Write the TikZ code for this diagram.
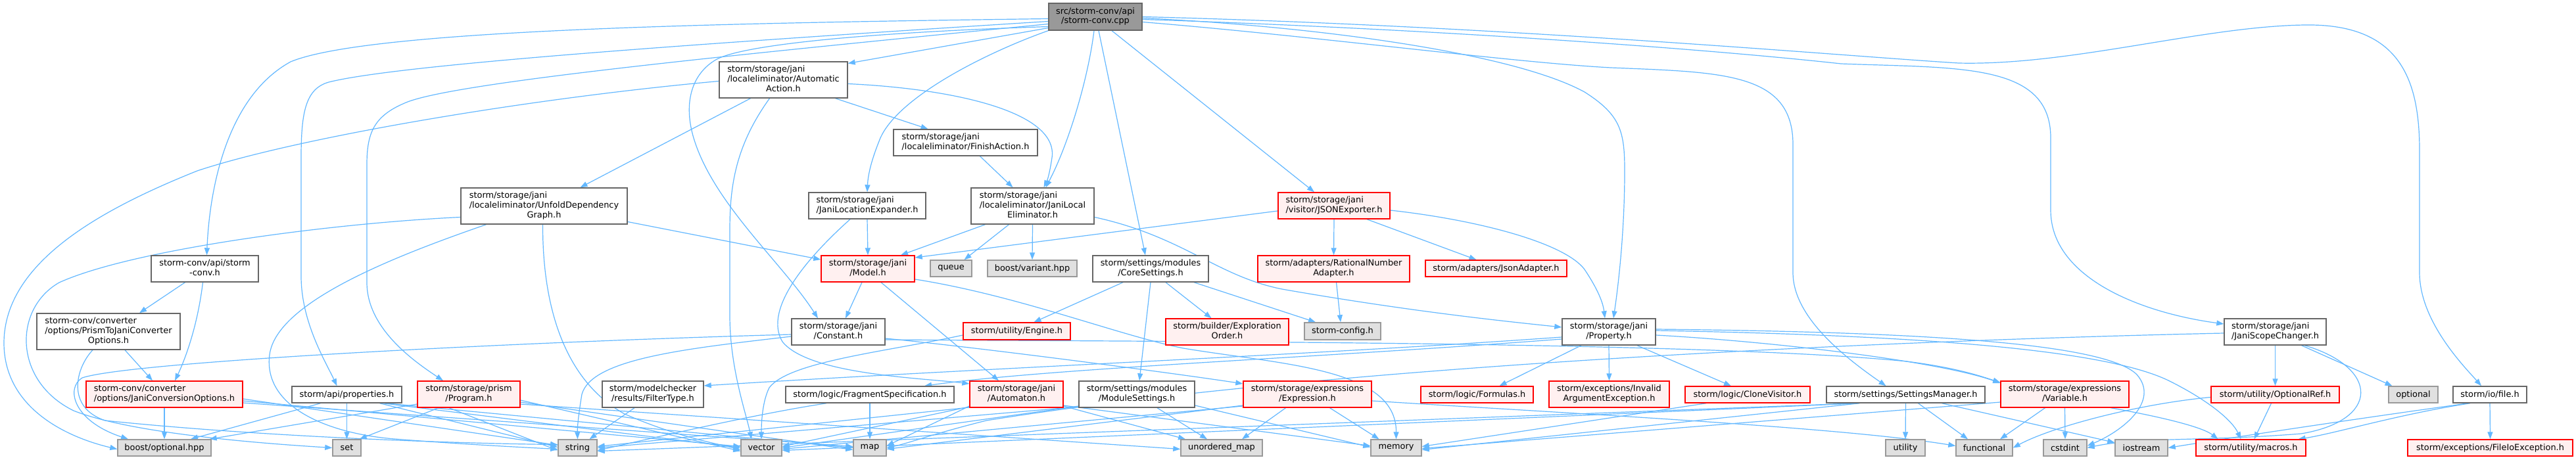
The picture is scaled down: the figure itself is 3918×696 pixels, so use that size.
\documentclass[tikz,border=0pt]{standalone}
\usepackage{fontspec}
\newfontfamily\dvs{DejaVu Sans}
\usetikzlibrary{arrows.meta}
\definecolor{edgec}{HTML}{63B8FF}
\definecolor{bordgray}{HTML}{666666}
\definecolor{redfill}{HTML}{FFF0F0}
\definecolor{grayfill}{HTML}{E0E0E0}
\definecolor{graybd}{HTML}{999999}
\definecolor{topfill}{HTML}{999999}
\newcommand\nfont{\dvs\fontsize{12.9pt}{14.7pt}\selectfont}
\newcommand\mlines[2]{\begin{tabular}{@{}l@{}}#1\\\multicolumn{1}{@{}c@{}}{#2}\end{tabular}}
\pgfdeclarelayer{bg}
\pgfsetlayers{bg,main}
\begin{document}
\begin{tikzpicture}[x=1pt,y=-1pt,
 lnk/.style={draw=edgec, line width=1.2pt, -{Triangle[length=11pt,width=8pt]}},
 wh/.style 2 args={minimum width=#1pt, minimum height=#2pt},
 nbox/.style={draw=bordgray, line width=1.4pt, fill=white, inner sep=0pt, font=\nfont, anchor=center},
 rbox/.style={nbox, draw=red, fill=redfill},
 gbox/.style={nbox, draw=graybd, fill=grayfill},
 tbox/.style={nbox, fill=topfill},
]
\useasboundingbox (0,0) rectangle (3918,696);

% ---------- nodes ----------
\node[tbox, wh={142}{41}] (top) at (1666,25.5) {\mlines{src/storm-conv/api}{/storm-conv.cpp}};
\node[nbox, wh={195}{55}] (aa) at (1191.5,121.5) {\mlines{storm/storage/jani\\/localeliminator/Automatic}{Action.h}};
\node[nbox, wh={219}{40}] (fin) at (1468.5,217) {\mlines{storm/storage/jani}{/localeliminator/FinishAction.h}};
\node[nbox, wh={253}{55}] (udg) at (827.5,313.5) {\mlines{storm/storage/jani\\/localeliminator/UnfoldDependency}{Graph.h}};
\node[nbox, wh={178}{40}] (jle) at (1319,313) {\mlines{storm/storage/jani}{/JaniLocationExpander.h}};
\node[nbox, wh={187}{55}] (jlel) at (1570.5,313.5) {\mlines{storm/storage/jani\\/localeliminator/JaniLocal}{Eliminator.h}};
\node[rbox, wh={170}{40}] (json) at (2029,313) {\mlines{storm/storage/jani}{/visitor/JSONExporter.h}};
\node[nbox, wh={163}{40}] (sch) at (311.5,409) {\mlines{storm-conv/api/storm}{-conv.h}};
\node[rbox, wh={142}{40}] (model) at (1320,409) {\mlines{storm/storage/jani}{/Model.h}};
\node[gbox, wh={63}{25}] (queue) at (1446.5,408.5) {queue};
\node[gbox, wh={136}{25}] (bvar) at (1570,408.5) {boost/variant.hpp};
\node[nbox, wh={176}{40}] (core) at (1750,409) {\mlines{storm/settings/modules}{/CoreSettings.h}};
\node[rbox, wh={231}{40}] (rna) at (2028.5,409) {\mlines{storm/adapters/RationalNumber}{Adapter.h}};
\node[rbox, wh={215}{25}] (jsona) at (2275.5,408.5) {storm/adapters/JsonAdapter.h};
\node[nbox, wh={218}{55}] (ptj) at (165,504.5) {\mlines{storm-conv/converter\\/options/PrismToJaniConverter}{Options.h}};
\node[nbox, wh={142}{40}] (cnst) at (1275,505) {\mlines{storm/storage/jani}{/Constant.h}};
\node[rbox, wh={163}{26}] (engine) at (1546.5,504) {storm/utility/Engine.h};
\node[rbox, wh={187}{40}] (expl) at (1866.5,505) {\mlines{storm/builder/Exploration}{Order.h}};
\node[gbox, wh={116}{26}] (cfg) at (2042,504) {storm-config.h};
\node[nbox, wh={142}{40}] (prop) at (2447,505) {\mlines{storm/storage/jani}{/Property.h}};
\node[nbox, wh={155}{40}] (scope) at (3460.5,505) {\mlines{storm/storage/jani}{/JaniScopeChanger.h}};
\node[rbox, wh={238}{40}] (jco) at (250,600) {\mlines{storm-conv/converter}{/options/JaniConversionOptions.h}};
\node[nbox, wh={167}{25}] (props) at (527.5,600.5) {storm/api/properties.h};
\node[rbox, wh={156}{40}] (prog) at (713,600) {\mlines{storm/storage/prism}{/Program.h}};
\node[nbox, wh={154}{40}] (filt) at (993,600) {\mlines{storm/modelchecker}{/results/FilterType.h}};
\node[nbox, wh={256}{25}] (frag) at (1323,600.5) {storm/logic/FragmentSpecification.h};
\node[rbox, wh={142}{40}] (autom) at (1546,600) {\mlines{storm/storage/jani}{/Automaton.h}};
\node[nbox, wh={176}{40}] (mods) at (1729,600) {\mlines{storm/settings/modules}{/ModuleSettings.h}};
\node[rbox, wh={195}{40}] (expr) at (1988.5,600) {\mlines{storm/storage/expressions}{/Expression.h}};
\node[rbox, wh={171}{25}] (form) at (2246.5,600.5) {storm/logic/Formulas.h};
\node[rbox, wh={183}{40}] (inval) at (2447.5,600) {\mlines{storm/exceptions/Invalid}{ArgumentException.h}};
\node[rbox, wh={190}{25}] (clone) at (2658,600.5) {storm/logic/CloneVisitor.h};
\node[nbox, wh={241}{25}] (setm) at (2898.5,600.5) {storm/settings/SettingsManager.h};
\node[rbox, wh={195}{40}] (var) at (3140.5,600) {\mlines{storm/storage/expressions}{/Variable.h}};
\node[rbox, wh={195}{25}] (optref) at (3460.5,600.5) {storm/utility/OptionalRef.h};
\node[gbox, wh={75}{25}] (optl) at (3670.5,600.5) {optional};
\node[nbox, wh={112}{25}] (file) at (3787,600.5) {storm/io/file.h};
\node[gbox, wh={142}{25}] (bopt) at (250,681.5) {boost/optional.hpp};
\node[gbox, wh={43}{25}] (nset) at (527.5,681.5) {set};
\node[gbox, wh={59}{25}] (str) at (878.5,681.5) {string};
\node[gbox, wh={62}{25}] (vec) at (1158,681.5) {vector};
\node[gbox, wh={50}{25}] (nmap) at (1323,681.5) {map};
\node[gbox, wh={124}{25}] (umap) at (1858,681.5) {unordered\_map};
\node[gbox, wh={77}{25}] (mem) at (2123.5,681.5) {memory};
\node[gbox, wh={60}{25}] (util) at (2898,681.5) {utility};
\node[gbox, wh={86}{25}] (func) at (3018,681.5) {functional};
\node[gbox, wh={66}{25}] (cstd) at (3141,681.5) {cstdint};
\node[gbox, wh={80}{25}] (iost) at (3257,681.5) {iostream};
\node[rbox, wh={167}{25}] (macros) at (3423.5,681.5) {storm/utility/macros.h};
\node[rbox, wh={251}{25}] (fileio) at (3787.5,681.5) {storm/exceptions/FileIoException.h};

% ---------- edges ----------
\begin{pgfonlayer}{bg}
\fill[white] (0,0) rectangle (3918,696);
% from the top node
\draw[lnk] ([yshift=-3pt]top.west) .. controls (1100,35) and (560,45) .. (442,94) .. controls (340,150) and (318,300) .. ([xshift=3pt]sch.north);
\draw[lnk] ([yshift=-7pt]top.west) .. controls (1000,70) and (600,100) .. (500,125) .. controls (465,135) and (458,170) .. (458,240) -- (458,420) .. controls (458,490) and (495,550) .. ([xshift=-15pt]props.north);
\draw[lnk] ([yshift=-11pt]top.west) .. controls (1100,85) and (700,125) .. (620,155) .. controls (570,175) and (558,200) .. (558,250) -- (558,430) .. controls (558,500) and (630,550) .. ([xshift=-39pt]prog.north);
\draw[lnk] ([yshift=-15pt]top.west) .. controls (1300,50) and (1120,70) .. (1087,92) .. controls (1050,115) and (1040,160) .. (1055,210) .. controls (1085,310) and (1190,400) .. ([xshift=-31pt]cnst.north);
\draw[lnk] ([yshift=-17pt]top.west) -- ([yshift=25pt]aa.east);
\draw[lnk] (top.south west) .. controls (1500,80) and (1360,150) .. (1337,215) .. controls (1323,250) and (1320,270) .. (jle.north);
\draw[lnk] ([xshift=-2pt]top.south) .. controls (1655,120) and (1625,220) .. ([xshift=20pt]jlel.north);
\draw[lnk] ([xshift=5pt]top.south) -- ([xshift=-8pt]core.north);
\draw[lnk] ([xshift=25pt]top.south) -- ([xshift=-30pt]json.north);
\draw[lnk] ([yshift=-2pt]top.east) .. controls (2000,40) and (2300,80) .. (2410,140) .. controls (2465,175) and (2471,200) .. (2471,260) .. controls (2471,350) and (2462,430) .. ([xshift=7pt]prop.north);
\draw[lnk] ([yshift=-8pt]top.east) .. controls (2000,55) and (2300,95) .. (2450,103) .. controls (2620,110) and (2727,110) .. (2727,220) -- (2727,415) .. controls (2727,480) and (2800,540) .. ([xshift=-30pt]setm.north);
\draw[lnk] ([yshift=-4pt]top.east) .. controls (2200,45) and (2600,75) .. (2800,97) .. controls (2980,104) and (3119,95) .. (3119,210) -- (3119,320) .. controls (3119,420) and (3250,475) .. ([yshift=12pt]scope.west);
\draw[lnk] (top.east) .. controls (2300,40) and (2800,85) .. (2979,96) .. controls (3150,100) and (3350,40) .. (3506,38) .. controls (3650,36) and (3680,120) .. (3680,230) -- (3680,415) .. controls (3680,490) and (3750,560) .. ([xshift=-13pt]file.north);

% left cluster
\draw[lnk] ([xshift=-30pt]sch.south) -- ([xshift=47pt]ptj.north);
\draw[lnk] ([xshift=-3pt]sch.south) .. controls (300,500) and (280,550) .. ([xshift=16pt]jco.north);
\draw[lnk] ([xshift=25pt]ptj.south) -- ([xshift=-18pt]jco.north);
\draw[lnk] ([xshift=-24pt]ptj.south) .. controls (115,560) and (100,620) .. (160,640) .. controls (400,665) and (700,675) .. ([yshift=5pt]str.west);
\draw[lnk] ([yshift=-2pt]aa.west) .. controls (800,150) and (450,210) .. (300,260) .. controls (150,320) and (8,400) .. (6,520) .. controls (5,620) and (100,665) .. ([yshift=-2pt]bopt.west);
\draw[lnk] ([yshift=-4pt]cnst.west) .. controls (800,520) and (200,550) .. (125,575) .. controls (100,590) and (110,640) .. ([xshift=-55pt]bopt.north);
\draw[lnk] ([yshift=-17pt]udg.west) .. controls (500,340) and (200,380) .. (90,430) .. controls (20,470) and (20,580) .. (112,625) .. controls (200,660) and (400,675) .. (nset.west);
\draw[lnk] ([xshift=-88pt]udg.south) .. controls (600,390) and (420,460) .. (410,540) .. controls (400,620) and (500,660) .. (600,668) .. controls (700,676) and (800,681) .. ([yshift=-2pt]str.west);
\draw[lnk] ([yshift=-24pt]udg.east) -- ([yshift=14pt]model.west);
\draw[lnk] ([xshift=-2pt]udg.south) .. controls (825,470) and (860,580) .. (950,630) .. controls (1030,665) and (1090,675) .. ([yshift=-3pt]vec.west);

% automatic action / eliminator block
\draw[lnk] ([xshift=-50pt]aa.south) -- ([xshift=55pt]udg.north);
\draw[lnk] ([xshift=-21pt]aa.south) .. controls (1120,220) and (1110,280) .. (1110,350) -- (1110,480) .. controls (1110,560) and (1135,630) .. ([xshift=-15pt]vec.north);
\draw[lnk] ([xshift=79pt]aa.south) -- ([xshift=-57pt]fin.north);
\draw[lnk] ([yshift=-6pt]aa.east) .. controls (1450,135) and (1610,170) .. (1600,240) .. controls (1597,260) and (1594,272) .. ([xshift=17pt]jlel.north);
\draw[lnk] ([xshift=22pt]fin.south) -- ([xshift=-30pt]jlel.north);
\draw[lnk] (jle.south) -- (model.north);
\draw[lnk] ([xshift=-26pt]jle.south) .. controls (1230,390) and (1160,470) .. (1190,520) .. controls (1230,570) and (1400,575) .. ([yshift=16pt]autom.west);
\draw[lnk] ([xshift=-72pt]jlel.south) -- ([xshift=50pt]model.north);
\draw[lnk] ([xshift=-36pt]jlel.south) -- ([xshift=20pt]queue.north);
\draw[lnk] (jlel.south) -- (bvar.north);
\draw[lnk] ([yshift=-17pt]jlel.east) .. controls (1800,360) and (1850,420) .. (1950,440) .. controls (2150,475) and (2300,490) .. ([yshift=7pt]prop.west);
\draw[lnk] ([yshift=-8pt]json.west) -- ([yshift=17pt]model.east);
\draw[lnk] (json.south) -- (rna.north);
\draw[lnk] ([xshift=50pt]json.south) -- ([xshift=-30pt]jsona.north);
\draw[lnk] ([yshift=-7pt]json.east) .. controls (2250,335) and (2380,370) .. (2410,410) .. controls (2430,440) and (2438,460) .. ([xshift=-6pt]prop.north);

% model / constant
\draw[lnk] ([xshift=-9pt]model.south) -- ([xshift=11pt]cnst.north);
\draw[lnk] ([xshift=20pt]model.south) -- ([xshift=-27pt]autom.north);
\draw[lnk] ([yshift=-16pt]model.east) .. controls (1550,450) and (1700,510) .. (1800,530) .. controls (1950,555) and (2124,560) .. (mem.north);
\draw[lnk] ([yshift=-10pt]cnst.east) .. controls (1500,530) and (1800,570) .. ([yshift=16pt]expr.west);
\draw[lnk] ([yshift=-12pt]cnst.east) .. controls (1800,520) and (2600,520) .. (2900,550) .. controls (2980,560) and (3020,575) .. ([yshift=18pt]var.west);
\draw[lnk] ([yshift=-7pt]cnst.west) .. controls (1050,530) and (900,545) .. (885,600) .. controls (880,630) and (878,650) .. (str.north);

% settings
\draw[lnk] ([xshift=-42pt]core.south) -- ([xshift=26pt]engine.north);
\draw[lnk] (core.south) -- ([xshift=4pt]mods.north);
\draw[lnk] ([xshift=23pt]core.south) -- ([xshift=-24pt]expl.north);
\draw[lnk] ([xshift=66pt]core.south) -- ([xshift=-41pt]cfg.north);
\draw[lnk] ([xshift=4pt]rna.south) -- ([xshift=-3pt]cfg.north);
\draw[lnk] ([yshift=-6pt]engine.west) .. controls (1350,535) and (1200,550) .. (1170,590) .. controls (1160,610) and (1158,640) .. (vec.north);

% property
\draw[lnk] ([yshift=-8pt]prop.west) .. controls (2000,540) and (1500,560) .. ([yshift=13pt]filt.east);
\draw[lnk] ([yshift=-11pt]prop.west) .. controls (2000,545) and (1600,560) .. ([xshift=83pt]frag.north);
\draw[lnk] ([xshift=-42pt]prop.south) -- ([xshift=34pt]form.north);
\draw[lnk] (prop.south) -- (inval.north);
\draw[lnk] ([xshift=43pt]prop.south) -- ([xshift=-25pt]clone.north);
\draw[lnk] ([yshift=-5pt]prop.east) .. controls (2700,520) and (2950,550) .. ([yshift=17pt]var.west);
\draw[lnk] ([yshift=2pt]prop.east) .. controls (2900,510) and (3200,530) .. (3300,580) .. controls (3360,610) and (3395,640) .. ([xshift=-15pt]macros.north);
\draw[lnk] ([yshift=4pt]prop.east) .. controls (2900,505) and (3200,520) .. (3250,570) .. controls (3285,610) and (3230,655) .. ([yshift=3pt]cstd.east);

% left middle row to bottom
\draw[lnk] (jco.south) -- (bopt.north);
\draw[lnk] ([yshift=-7pt]jco.east) -- ([yshift=4pt]str.west);
\draw[lnk] ([yshift=-10pt]jco.east) -- ([yshift=2pt]vec.west);
\draw[lnk] ([yshift=-13pt]jco.east) -- ([yshift=2pt]nmap.west);
\draw[lnk] ([xshift=-40pt]props.south) -- ([xshift=40pt]bopt.north);
\draw[lnk] (props.south) -- (nset.north);
\draw[lnk] ([xshift=50pt]props.south) -- ([yshift=1pt]str.west);
\draw[lnk] ([xshift=55pt]props.south) -- ([yshift=0pt]vec.west);
\draw[lnk] ([xshift=60pt]props.south) -- ([yshift=0pt]nmap.west);
\draw[lnk] ([yshift=-15pt]prog.west) -- ([xshift=-3pt]bopt.north east);
\draw[lnk] ([xshift=-46pt]prog.south) -- ([xshift=-3pt]nset.north east);
\draw[lnk] ([xshift=-30pt]prog.south) -- ([yshift=-4pt]str.west);
\draw[lnk] ([yshift=-9pt]prog.east) -- ([yshift=-5pt]vec.west);
\draw[lnk] ([yshift=-12pt]prog.east) -- ([yshift=-3pt]nmap.west);
\draw[lnk] ([yshift=-15pt]prog.east) -- ([yshift=-2pt]umap.west);
\draw[lnk] ([xshift=-28pt]filt.south) -- ([xshift=18pt]str.north);
\draw[lnk] (frag.south) -- (nmap.north);
\draw[lnk] ([xshift=-66pt]frag.south) .. controls (1150,630) and (1000,665) .. ([yshift=-4pt]str.east);

% centre middle row to bottom
\draw[lnk] ([yshift=-18pt]autom.east) -- ([xshift=-55pt]umap.north);
\draw[lnk] ([yshift=-18pt]autom.west) -- ([yshift=3pt]nmap.east);
\draw[lnk] ([yshift=-19pt]autom.west) -- ([yshift=2pt]vec.east);
\draw[lnk] ([yshift=-20pt]autom.west) -- ([yshift=2pt]str.east);
\draw[lnk] ([yshift=-17pt]autom.east) -- ([yshift=3pt]mem.west);
\draw[lnk] ([xshift=31pt]mods.south) -- ([xshift=-22pt]umap.north);
\draw[lnk] ([yshift=-18pt]mods.west) -- ([yshift=0pt]vec.east);
\draw[lnk] ([yshift=-19pt]mods.west) -- ([yshift=0pt]str.east);
\draw[lnk] ([yshift=-17pt]mods.east) -- ([yshift=1pt]mem.west);
\draw[lnk] ([xshift=-33pt]expr.south) -- ([xshift=31pt]umap.north);
\draw[lnk] ([xshift=34pt]expr.south) -- ([xshift=-26pt]mem.north);
\draw[lnk] ([yshift=-17pt]expr.west) -- ([yshift=-2pt]nmap.east);
\draw[lnk] ([yshift=-18pt]expr.west) -- ([yshift=-2pt]vec.east);
\draw[lnk] ([yshift=-10pt]expr.east) .. controls (2400,630) and (2800,650) .. ([yshift=3pt]func.west);

% right middle row to bottom
\draw[lnk] (setm.south) -- (util.north);
\draw[lnk] ([xshift=19pt]setm.south) -- ([xshift=-25pt]func.north);
\draw[lnk] ([xshift=55pt]setm.south) -- ([yshift=8pt]iost.west);
\draw[lnk] ([xshift=-70pt]setm.south) -- ([yshift=-3pt]mem.east);
\draw[lnk] ([xshift=-72pt]setm.south) -- ([yshift=-4pt]vec.east);
\draw[lnk] ([xshift=-74pt]setm.south) -- ([yshift=-5pt]str.east);
\draw[lnk] ([xshift=-63pt]clone.south) -- ([yshift=2pt]mem.east);
\draw[lnk] ([xshift=-30pt]var.south) -- ([xshift=24pt]func.north);
\draw[lnk] (var.south) -- (cstd.north);
\draw[lnk] ([xshift=70pt]var.south) .. controls (3290,635) and (3350,650) .. ([xshift=-50pt]macros.north);
\draw[lnk] ([yshift=-12pt]var.west) -- ([yshift=-1pt]mem.east);
\draw[lnk] (scope.south) -- (optref.north);
\draw[lnk] ([xshift=40pt]scope.south) -- ([xshift=-32pt]optl.north);
\draw[lnk] ([xshift=45pt]scope.south) .. controls (3620,560) and (3620,640) .. (3500,660) .. controls (3350,672) and (3250,665) .. (cstd.east);
\draw[lnk] ([yshift=-2pt]scope.west) .. controls (2800,520) and (2000,560) .. (1500,640) .. controls (1420,660) and (1380,675) .. (nmap.east);
\draw[lnk] ([xshift=-6pt]optref.south) -- ([xshift=5pt]macros.north);
\draw[lnk] ([yshift=-4pt]optref.west) .. controls (3250,615) and (3120,650) .. (func.east);
\draw[lnk] (file.south) -- (fileio.north);
\draw[lnk] ([xshift=-30pt]file.south) .. controls (3650,630) and (3550,660) .. ([xshift=72pt]macros.north);
\draw[lnk] ([xshift=-33pt]file.south) .. controls (3600,635) and (3400,665) .. (iost.east);
\end{pgfonlayer}
\end{tikzpicture}
\end{document}
